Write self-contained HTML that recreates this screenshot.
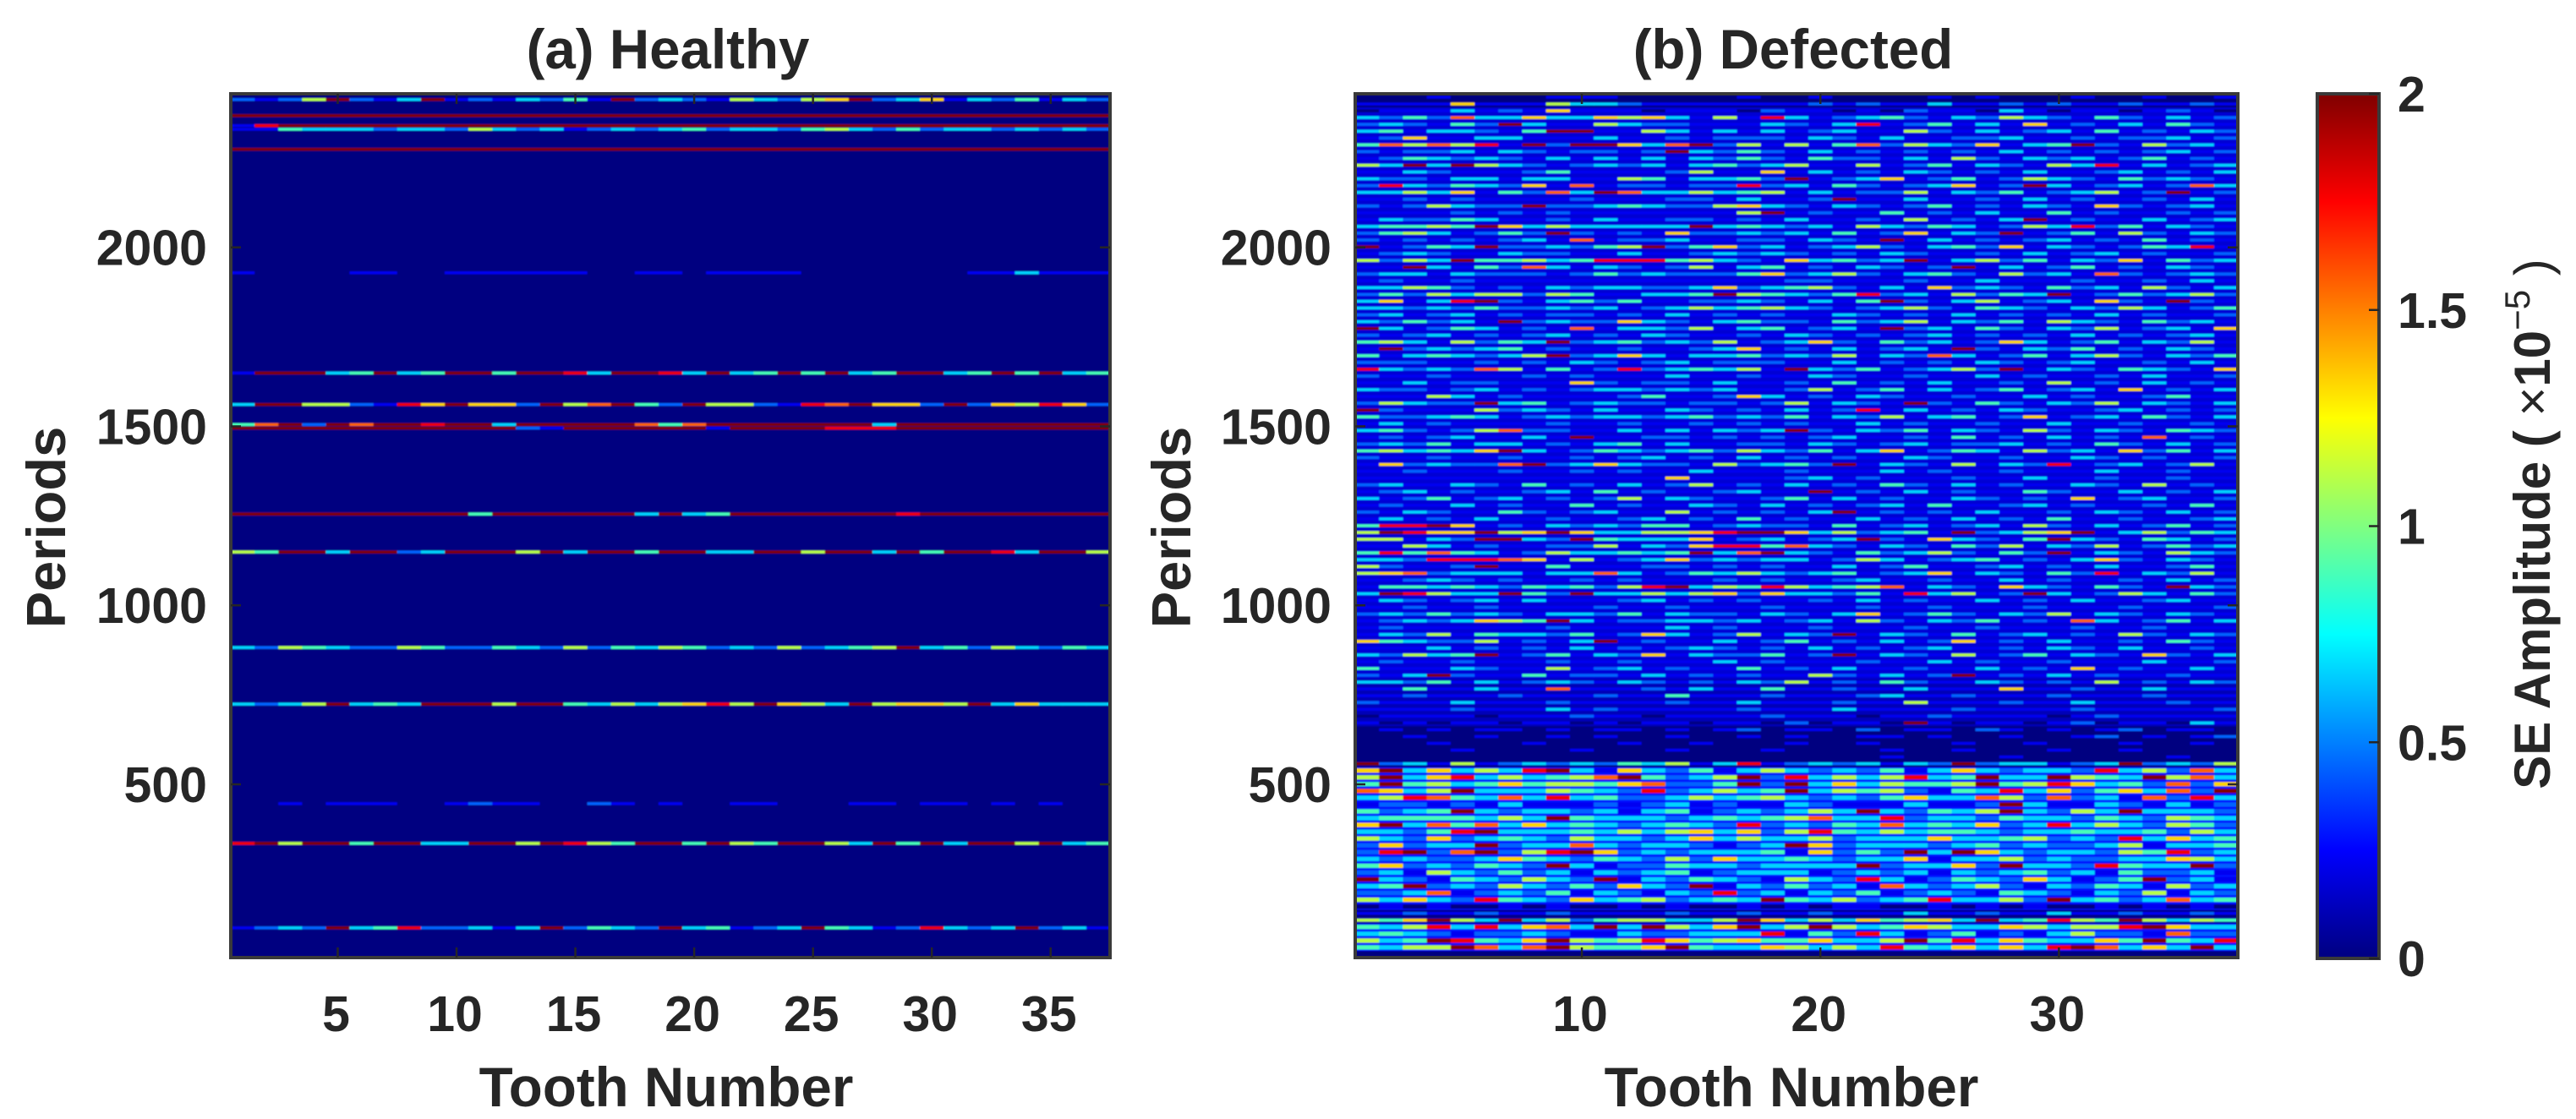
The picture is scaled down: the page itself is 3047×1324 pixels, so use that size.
<!DOCTYPE html>
<html lang="en">
<head>
<meta charset="utf-8">
<title>SE Amplitude Heatmaps</title>
<style>
html,body{margin:0;padding:0;background:#fff}
svg{display:block}
text{font-family:"Liberation Sans",sans-serif;font-weight:bold;fill:#262626}
</style>
</head>
<body>
<svg id="figure" xmlns="http://www.w3.org/2000/svg" width="3047" height="1324" viewBox="0 0 3047 1324">
<defs>
<filter id="soft" x="0" y="0" width="100%" height="100%"><feGaussianBlur stdDeviation="0.7"/></filter>
<linearGradient id="jetGradient" x1="0" y1="1" x2="0" y2="0"></linearGradient>
</defs>
<g id="panelA"></g>
<g id="panelB"></g>
<g id="bar"></g>
<text x="790" y="81" font-size="65.5" text-anchor="middle">(a) Healthy</text>
<text x="2121" y="81" font-size="65.5" text-anchor="middle">(b) Defected</text>
<text x="788" y="1309" font-size="65.5" text-anchor="middle">Tooth Number</text>
<text x="2119" y="1309" font-size="65.5" text-anchor="middle">Tooth Number</text>
<text transform="translate(77 624) rotate(-90)" font-size="65" text-anchor="middle">Periods</text>
<text transform="translate(1408 624) rotate(-90)" font-size="65" text-anchor="middle">Periods</text>
<text transform="translate(3016 620) rotate(-90)" font-size="60" text-anchor="middle">SE Amplitude ( <tspan font-weight="normal">×</tspan>10<tspan dy="-24" font-size="42" font-weight="normal">−5</tspan><tspan dy="24" font-weight="normal"> )</tspan></text>
</svg>
<script>
const toothRange = [0.5, 37.5];
const periodRange = [16, 2429];
const amplitudeRange = [0, 2];
const levelStep = 2 / 9;
const healthyToothTicks = [5, 10, 15, 20, 25, 30, 35];
const defectedToothTicks = [10, 20, 30];
const periodTicks = [500, 1000, 1500, 2000];
const colorbarTicks = [0, 0.5, 1, 1.5, 2];
const healthyRowSpan = 8;
const defectedBinSpan = 19;
const defectedThinSpan = 8;
const defectedWideSpan = 12;

const healthyPeriods = [2413, 2368, 2340, 2330, 2274, 1929, 1649, 1561, 1505, 1495, 1255, 1149, 882, 724, 446, 335, 99];
const healthyValues = [
[2,1,2,5,9,2,1,3,9,1,2,1,3,2,4,1,9,2,3,2,1,5,3,2,5,6,9,2,3,6,1,3,2,4,1,3,2],
[9,9,9,9,9,9,9,9,9,9,9,9,9,9,9,9,9,9,9,9,9,9,9,9,9,9,9,9,9,9,9,9,9,9,9,9,9],
[1,8,9,9,9,9,9,9,9,9,9,9,9,9,9,9,9,9,9,9,9,9,9,9,9,9,9,9,9,9,9,9,9,9,9,9,9],
[1,1,4,3,3,3,2,3,3,2,5,3,2,3,1,2,3,2,3,4,2,3,3,2,4,5,3,2,4,2,3,3,2,3,2,3,2],
[9,9,9,9,9,9,9,9,9,9,9,9,9,9,9,9,9,9,9,9,9,9,9,9,9,9,9,9,9,9,9,9,9,9,9,9,9],
[1,0,0,0,0,1,1,0,0,1,1,1,1,1,1,0,0,1,1,0,1,1,1,1,0,0,0,0,0,0,0,1,1,3,1,1,1],
[1,9,9,9,3,4,9,3,4,9,9,4,9,9,8,3,9,9,8,3,9,3,4,9,4,9,3,4,9,9,3,4,9,4,9,3,4],
[3,9,9,5,5,2,1,8,6,9,6,6,2,9,5,7,9,4,2,9,5,5,2,1,8,7,9,6,6,2,9,2,6,5,8,6,2],
[4,7,9,2,9,7,9,9,8,9,9,3,9,9,9,9,9,7,4,7,9,9,9,9,9,9,9,3,9,9,9,9,9,9,9,9,9],
[9,9,9,9,9,9,9,9,9,9,9,9,2,1,9,9,9,9,9,9,1,9,9,9,9,8,8,8,9,9,9,9,9,9,9,9,9],
[9,9,9,9,9,9,9,9,9,9,4,9,9,9,9,9,9,3,9,3,4,9,9,9,9,9,9,9,8,9,9,9,9,9,9,9,9],
[5,4,9,9,3,9,9,2,3,9,9,9,5,9,3,9,9,4,9,9,3,3,9,9,5,9,9,3,9,4,9,9,8,3,9,9,5],
[3,2,5,4,3,2,2,5,4,2,2,4,3,2,5,2,4,3,5,4,2,3,2,5,2,3,4,5,9,3,4,2,5,3,2,4,3],
[3,2,3,5,9,3,4,3,9,9,9,5,9,9,4,3,5,3,5,6,8,5,9,6,5,3,9,5,6,6,5,9,3,6,3,3,3],
[0,0,1,0,1,1,1,0,0,1,2,1,1,0,0,2,1,0,1,0,0,1,1,0,0,0,1,1,0,1,1,0,1,0,1,0,0],
[8,9,5,9,9,4,9,9,3,3,9,9,5,9,8,5,4,9,9,4,9,5,4,9,9,5,3,9,4,9,3,9,9,5,9,3,4],
[1,2,3,2,9,3,4,8,2,2,3,1,3,9,2,4,3,2,9,3,4,1,2,3,9,4,3,1,2,8,3,2,3,9,2,3,1]
];

const defectedFloor = [
0,0,0.75,0.75,0.75,0.75,0.75,0.75,0.75,0.75,0.75,0.75,0.75,0.75,0.75,0.75,0.75,0.75,0.75,0.75,
0.75,0.75,0.75,0.75,0.75,0.75,0.75,0.75,0.75,0.75,0.75,0.75,0.75,0.75,0.75,0.75,0.75,0.75,0.75,0.75,
0.75,0.75,0.75,0.75,0.75,0.75,0.75,0.75,0.75,0.75,0.75,0.75,0.75,0.75,0.75,0.75,0.75,0.75,0.75,0.75,
0.75,0.75,0.75,0.75,0.75,0.75,0.75,0.75,0.75,0.75,0.75,0.75,0.75,0.75,0.75,0.75,0.75,0.75,0.75,0.75,
0.75,0.75,0.75,0.75,0.75,0.75,0.5,0.5,0.5,0.5,0.5,0.5,0.5,0,0,0,0,0,0,1.25,
1.25,1.25,1.25,1.25,1.25,1.25,1.25,1.25,1.25,1.25,1.25,1.25,1.25,1.25,1.25,1.25,1.25,1.25,1.25,1.25,0,0.25,1.25,1.25,1.25,1.25,1.25
];

const defectedValues = [
[0,0,0,1,0,0,0,0,1,1,1,0,0,0,0,0,1,0,0,1,0,0,0,0,1,0,1,0,0,0,1,0,0,1,0,0,1],
[1,1,1,1,6,1,1,1,5,3,3,2,1,1,1,1,1,1,1,2,1,2,1,1,3,1,1,2,1,2,1,1,2,1,1,2,1],
[0,1,1,1,3,1,2,1,6,1,1,1,0,1,1,1,0,2,1,1,0,1,0,2,1,1,0,3,1,0,1,1,0,1,2,1,0],
[3,2,4,2,7,3,3,6,3,3,6,5,6,3,1,5,1,8,3,1,2,3,4,2,1,3,2,5,3,2,1,4,2,1,3,1,2],
[2,3,2,1,4,2,9,3,1,1,5,3,2,2,1,1,1,3,2,1,3,8,1,2,4,1,3,1,6,1,2,1,3,1,4,2,1],
[3,4,1,3,3,2,1,4,9,9,1,1,5,3,1,3,1,3,1,2,3,1,1,5,2,1,3,1,2,3,1,4,1,2,1,3,2],
[1,2,6,1,1,3,3,1,1,1,3,1,1,2,1,2,2,2,1,3,2,1,3,1,1,2,2,3,1,1,2,1,2,2,3,1,2],
[4,7,5,7,5,8,1,9,2,9,9,6,3,7,9,2,5,1,5,1,4,7,2,5,3,2,6,1,3,4,9,2,1,5,2,3,1],
[2,1,2,2,3,1,3,2,1,2,2,1,2,9,3,2,4,2,1,3,1,2,1,2,1,2,1,3,1,2,1,2,1,2,3,1,2],
[1,2,4,3,2,3,2,1,3,1,3,1,3,1,3,2,4,2,1,4,2,2,1,3,1,5,2,1,3,2,3,1,2,4,1,2,1],
[5,3,9,3,9,5,3,2,1,2,3,2,3,1,3,4,2,3,5,1,1,5,1,2,4,1,3,2,1,5,3,8,1,3,1,2,3],
[1,1,3,2,1,1,1,2,4,1,1,1,1,2,5,1,1,6,1,3,1,2,1,3,2,1,2,1,3,1,1,2,3,1,2,1,3],
[3,2,2,1,3,3,1,3,3,1,1,5,4,1,3,3,4,2,9,1,2,3,6,1,2,4,1,2,5,3,2,1,4,2,3,2,1],
[2,8,3,2,4,3,2,6,1,7,1,2,2,1,2,2,8,2,3,1,4,2,1,2,3,6,1,2,9,3,1,2,3,1,2,7,3],
[3,3,5,3,6,1,4,2,7,3,9,7,3,3,5,3,4,5,1,3,1,2,2,5,1,3,2,4,1,2,3,5,1,2,9,1,2],
[1,1,2,1,2,1,1,1,1,2,1,1,1,2,2,1,3,1,1,2,9,1,1,3,1,1,2,1,3,1,2,1,1,2,1,3,1],
[2,1,2,5,3,2,2,9,2,2,3,4,3,2,2,5,6,3,2,1,3,2,1,2,4,1,2,1,3,2,1,6,2,1,2,3,1],
[1,1,1,1,2,1,2,1,2,1,1,1,1,1,1,1,5,9,1,2,1,1,4,1,2,1,3,1,1,4,1,2,1,1,2,1,2],
[1,3,2,2,4,3,1,1,2,1,3,1,1,2,2,1,2,1,3,1,1,2,1,5,1,2,1,3,9,1,2,1,1,3,1,2,3],
[3,4,4,5,4,9,6,3,5,3,3,3,3,3,9,3,4,3,2,3,1,5,3,2,4,3,1,2,5,3,8,2,4,1,3,2,1],
[2,4,5,3,1,2,4,2,9,2,1,2,1,6,2,2,3,2,3,1,4,1,2,6,1,3,2,9,1,2,4,1,5,2,1,3,2],
[2,1,2,1,2,1,2,3,1,7,1,2,2,3,1,1,2,2,1,3,2,1,9,1,3,1,2,1,2,3,1,2,1,4,1,2,1],
[9,1,2,4,3,9,2,2,3,2,4,5,9,2,4,6,2,3,1,2,3,5,2,1,3,4,2,6,1,3,2,1,2,4,3,8,1],
[1,2,3,2,1,1,3,2,2,1,1,3,1,1,2,3,2,3,2,1,2,1,3,2,1,1,2,1,3,1,2,3,1,2,1,1,2],
[5,2,5,3,9,4,4,5,3,4,8,8,8,4,5,3,2,1,6,3,4,2,3,9,1,3,5,2,4,1,3,2,6,1,4,2,3],
[1,1,9,3,1,4,2,7,3,1,3,2,1,2,5,1,3,4,1,2,1,3,2,1,2,9,1,3,1,2,4,1,2,1,3,2,1],
[2,3,3,1,3,2,2,2,1,2,4,2,3,2,2,2,4,6,2,3,5,2,1,3,4,2,1,5,2,3,1,7,2,1,2,3,2],
[1,2,1,1,2,1,1,1,1,1,1,1,1,1,1,1,1,1,2,2,1,1,1,2,1,1,3,1,1,1,2,1,1,2,1,3,1],
[3,3,5,4,2,1,2,1,3,2,3,3,2,2,3,6,2,3,4,5,2,1,3,1,6,2,3,2,1,4,2,3,1,5,2,1,3],
[2,4,2,5,3,5,5,2,5,4,1,1,3,3,4,9,5,4,3,2,4,8,2,3,1,5,2,4,3,9,1,2,4,2,3,5,2],
[3,6,1,3,8,9,2,1,3,4,2,4,1,1,2,2,3,2,1,3,1,4,9,2,1,3,5,1,2,3,1,6,2,1,9,2,1],
[3,3,2,3,2,4,2,2,3,2,3,1,2,3,5,3,4,5,3,2,1,2,3,5,2,1,4,3,2,1,3,2,5,3,1,2,4],
[2,3,1,2,3,1,2,1,2,2,1,2,1,3,1,2,1,2,1,1,3,2,1,2,1,3,1,2,1,2,1,3,1,2,1,1,2],
[3,2,4,2,3,1,9,2,3,2,2,6,3,2,1,3,4,2,2,1,4,2,3,5,1,3,2,4,1,5,3,2,1,4,2,3,1],
[9,3,1,2,4,3,1,2,1,7,1,3,3,2,5,1,3,4,1,2,3,1,9,2,3,1,4,2,1,3,2,5,1,2,3,1,6],
[2,1,2,3,1,2,1,2,3,1,2,1,3,2,1,1,2,1,3,2,1,2,1,2,3,1,2,1,2,1,3,1,2,1,2,3,1],
[4,5,3,1,5,2,4,3,9,2,3,4,2,3,2,5,1,2,3,6,2,1,4,2,3,1,2,6,3,1,2,4,1,3,2,5,1],
[1,9,2,3,2,3,4,1,2,1,1,2,1,1,2,3,6,1,2,1,3,1,2,3,1,9,2,1,3,2,4,1,2,1,3,2,1],
[4,1,3,4,3,2,3,5,9,2,3,6,3,1,3,3,4,2,3,2,5,1,3,2,7,3,1,2,4,1,3,5,2,1,3,2,4],
[2,2,2,1,1,2,1,2,1,3,2,1,2,3,1,2,2,2,1,1,3,1,2,1,2,1,3,2,1,2,3,1,1,2,1,3,1],
[8,3,2,3,2,7,5,1,4,1,2,8,2,3,4,3,5,1,9,3,2,4,1,2,3,5,2,9,1,3,2,1,4,3,2,1,6],
[2,1,1,2,1,1,1,2,1,2,1,1,1,3,1,1,2,1,1,3,2,1,1,2,1,1,3,1,2,1,1,2,1,3,1,1,2],
[1,1,3,1,2,2,1,1,1,6,2,1,2,2,1,3,1,1,2,1,4,1,2,1,3,1,1,2,1,5,1,2,1,3,1,2,1],
[3,2,2,1,2,3,1,2,1,2,3,3,2,3,2,3,1,1,2,5,1,2,4,1,3,1,2,4,1,2,3,1,6,1,2,1,3],
[1,1,1,5,3,1,2,1,1,1,1,2,4,1,1,2,6,3,1,2,1,3,2,1,1,2,1,1,3,1,2,1,1,2,4,1,1],
[2,5,3,2,2,9,3,4,1,2,3,2,2,1,2,2,1,2,5,1,3,2,1,9,2,1,4,2,1,3,2,5,1,3,2,1,3],
[9,2,1,1,1,5,2,3,2,1,3,1,1,3,2,1,2,1,3,1,2,8,1,3,1,2,1,3,2,1,1,2,3,1,2,1,2],
[4,2,2,3,4,3,1,2,3,2,3,3,2,3,4,2,3,2,4,1,3,2,5,1,3,4,1,2,6,1,2,3,1,4,2,1,3],
[1,3,1,2,1,1,1,1,2,1,1,2,1,1,2,1,2,1,2,1,1,3,1,2,1,1,2,1,1,3,1,1,2,1,1,2,1],
[3,4,2,1,2,5,7,2,2,1,1,3,1,3,1,3,2,3,9,2,1,3,2,4,1,3,2,1,5,2,1,3,2,1,4,3,2],
[1,2,1,2,3,1,1,3,1,9,1,1,2,2,1,2,1,2,1,2,3,1,1,2,1,4,1,2,1,3,1,2,1,7,1,2,1],
[2,3,2,4,1,3,3,1,2,1,3,4,1,3,1,1,2,2,1,3,2,1,2,3,1,2,2,3,1,2,1,4,2,1,3,1,2],
[4,5,3,4,3,6,9,3,1,2,4,3,2,3,4,2,5,3,2,4,1,3,6,1,2,4,3,1,5,2,3,1,6,2,4,1,3],
[2,1,1,2,1,1,2,1,1,2,1,2,3,1,2,1,3,1,2,1,2,1,1,3,2,1,1,2,1,1,3,2,1,2,1,1,2],
[1,6,2,3,2,2,7,9,2,3,6,3,2,2,1,5,2,3,4,2,9,1,3,2,1,5,1,3,2,8,1,2,3,1,2,5,1],
[1,1,2,1,1,1,2,1,1,2,1,2,1,1,3,1,1,1,2,1,1,1,3,1,2,1,1,2,1,1,1,3,1,1,2,1,1],
[1,1,1,1,1,1,1,1,1,1,1,1,1,6,1,1,1,1,2,3,1,2,1,1,1,2,1,1,3,1,1,2,1,1,2,1,1],
[2,3,1,1,3,2,1,4,1,2,1,3,1,2,5,1,2,1,3,1,2,1,4,2,1,3,1,2,1,1,3,2,1,5,1,2,1],
[1,2,3,1,2,1,1,2,3,1,4,1,2,1,1,2,3,1,1,9,1,2,1,3,1,2,1,1,4,2,1,1,3,1,2,1,3],
[3,1,2,4,1,2,3,1,2,1,2,5,1,3,2,1,1,2,4,1,3,1,2,1,1,3,2,1,2,1,6,1,2,3,1,1,2],
[1,2,1,1,3,1,2,1,1,4,1,2,1,1,3,2,1,3,1,2,1,2,3,1,4,1,1,2,3,1,2,1,1,2,1,4,1],
[2,1,3,2,1,1,4,2,1,2,3,1,1,5,1,2,1,2,1,3,9,1,2,1,2,1,3,1,1,2,1,3,2,1,3,1,2],
[1,3,1,2,1,3,1,1,2,1,1,2,3,1,2,1,4,1,2,1,1,3,1,2,1,3,1,2,1,4,1,1,2,1,1,2,3],
[4,8,8,9,6,1,2,1,3,2,3,2,4,4,1,2,3,2,2,1,4,1,2,3,1,2,3,1,5,2,1,3,1,2,4,1,2],
[5,9,8,6,6,9,5,6,9,6,3,3,5,5,6,8,9,9,6,3,5,2,3,4,1,9,2,3,5,6,9,1,3,5,2,4,3],
[5,5,1,3,2,9,9,3,2,9,4,3,3,3,6,1,2,3,1,2,3,9,2,1,6,3,2,1,4,9,3,2,1,4,3,1,2],
[1,1,5,3,1,2,1,1,2,2,5,1,3,2,6,8,8,4,7,3,2,1,3,2,1,4,2,5,1,3,2,5,1,2,4,2,3],
[4,8,4,7,4,3,1,2,5,3,3,4,3,4,9,3,7,9,3,2,1,4,2,3,5,2,1,4,2,9,1,3,2,1,5,3,2],
[3,3,2,8,8,8,7,6,1,5,1,2,3,6,2,3,2,3,3,1,2,5,3,1,2,3,4,1,2,1,3,6,2,1,3,2,1],
[5,2,1,1,2,9,1,1,4,1,1,1,2,2,1,2,1,2,1,1,3,1,2,4,1,1,2,3,1,2,1,3,1,1,2,4,1],
[5,6,7,2,3,3,3,1,3,3,7,3,1,2,4,3,5,3,2,3,4,1,2,3,6,1,3,2,1,4,2,8,1,3,2,5,1],
[1,1,2,3,2,1,2,1,1,2,1,2,1,1,1,2,1,2,1,1,2,3,1,1,2,1,1,3,1,2,1,1,2,1,3,1,2],
[1,4,4,3,4,3,2,4,3,4,2,5,8,9,3,5,4,8,5,3,4,5,7,1,3,2,1,6,3,2,1,4,2,1,9,3,2],
[3,9,8,5,3,3,9,4,2,9,3,3,5,3,5,6,2,6,3,3,2,4,1,8,3,5,1,2,9,3,1,2,5,3,1,4,2],
[1,3,2,1,2,3,1,3,1,1,1,2,3,1,2,1,2,1,1,2,1,3,1,2,1,1,3,1,2,1,3,1,1,2,3,1,1],
[1,1,2,1,1,2,1,1,1,1,2,1,1,2,1,1,1,2,1,1,1,2,1,1,2,1,1,1,2,1,1,1,2,1,1,1,2],
[2,3,2,4,2,3,2,1,3,3,2,4,1,3,2,2,1,3,2,1,3,6,1,2,4,2,1,3,2,5,1,3,2,1,3,2,1],
[1,2,3,2,3,6,5,4,9,3,1,2,2,3,3,2,3,1,2,3,1,5,2,1,3,2,4,1,2,1,7,3,1,2,4,1,3],
[1,2,1,1,1,1,1,1,2,1,1,1,1,3,1,2,1,1,1,2,1,1,1,2,1,1,2,1,1,1,2,1,1,2,1,1,1],
[1,3,2,5,1,4,3,3,2,4,1,2,6,3,1,2,5,1,3,2,9,1,3,2,1,4,1,2,3,1,2,1,5,2,1,3,2],
[6,4,3,2,2,5,1,2,1,3,9,1,2,1,1,3,1,2,4,1,2,1,3,1,2,6,1,2,1,3,1,1,2,1,4,2,1],
[1,1,1,3,1,2,1,2,1,3,1,2,1,2,3,2,1,2,1,3,1,2,1,2,3,1,1,2,1,3,2,1,3,1,1,2,1],
[3,2,5,3,4,9,1,2,4,1,3,2,6,1,3,2,2,4,1,2,9,1,3,2,1,5,1,2,4,1,3,2,1,6,2,1,3],
[1,2,1,1,2,1,1,1,2,1,1,2,1,1,1,3,1,2,1,1,1,2,1,1,3,1,2,1,1,2,1,1,1,3,1,1,2],
[4,1,1,1,3,2,1,1,5,1,2,3,1,2,1,1,4,1,2,1,3,1,1,2,1,1,3,1,2,1,6,1,2,1,1,3,1],
[2,1,3,9,2,1,1,4,1,2,2,1,3,1,2,1,2,1,1,5,2,1,3,1,2,9,1,2,1,3,1,2,1,1,2,1,1],
[3,3,2,4,1,3,1,2,3,2,1,3,2,1,2,1,3,2,5,1,2,1,4,2,1,1,3,2,1,2,1,5,1,2,1,3,2],
[1,1,4,1,1,3,1,1,7,1,1,1,2,1,3,1,1,4,1,1,2,1,1,3,1,1,1,6,1,1,2,1,1,3,1,1,1],
[1,1,2,1,1,1,2,1,1,1,2,1,1,4,1,1,1,2,1,1,1,2,3,1,1,2,1,1,1,2,1,1,1,2,1,1,1],
[2,1,1,1,3,1,1,1,2,1,1,1,1,2,1,1,3,1,1,1,2,1,1,5,1,1,1,2,1,1,3,1,1,1,2,1,1],
[1,1,1,1,2,1,1,1,3,1,2,1,1,1,1,1,2,1,1,1,3,1,1,1,1,2,1,1,1,1,2,1,1,1,1,1,2],
[0,1,1,1,1,0,1,1,1,2,1,1,0,1,1,1,1,2,1,1,1,0,1,1,2,1,1,1,1,0,1,2,1,1,1,1,1],
[1,0,1,0,1,1,0,1,1,0,1,0,1,1,0,1,1,0,2,0,1,1,0,9,1,0,1,1,0,1,2,0,1,1,0,3,1],
[0,1,0,1,0,1,1,0,1,0,1,1,0,1,0,1,2,0,1,1,0,2,0,1,1,0,2,1,0,1,0,1,2,0,1,1,0],
[0,0,1,0,0,1,0,0,1,0,1,0,0,1,0,0,1,0,1,0,0,1,1,0,1,0,0,1,0,0,1,2,0,1,0,1,2],
[0,0,0,1,0,0,0,1,0,0,0,1,0,0,1,0,0,0,1,0,0,1,0,0,0,1,0,0,1,0,0,0,1,0,0,1,0],
[0,0,0,0,1,0,0,0,0,1,0,0,0,1,0,0,0,1,0,0,0,0,1,0,0,1,0,0,0,1,0,0,1,0,0,0,0],
[0,0,0,0,0,0,0,0,0,0,0,0,0,0,0,0,0,0,0,0,0,0,1,0,0,0,0,1,0,0,0,0,0,0,1,0,0],
[9,2,3,1,5,1,2,3,2,3,2,4,3,5,1,3,8,1,2,3,2,3,1,3,2,9,2,3,3,1,2,3,9,2,3,2,5],
[6,9,3,6,3,5,3,8,9,3,1,6,3,2,4,1,3,5,3,2,3,2,4,1,3,6,3,2,3,3,2,8,3,5,2,7,3],
[5,9,3,6,8,3,5,3,4,5,7,9,4,2,3,5,9,2,8,3,5,3,5,8,3,4,9,3,3,9,5,4,3,9,5,7,3],
[4,9,4,5,3,4,6,4,5,5,4,6,7,2,2,4,9,2,9,3,6,3,5,4,4,5,9,4,5,8,6,3,4,2,7,2,6],
[7,6,3,5,9,3,3,3,5,4,3,2,8,2,3,5,3,4,9,3,5,4,5,2,1,4,3,8,3,6,2,4,6,3,7,2,9],
[3,5,8,7,4,3,7,3,8,3,4,2,2,3,5,3,4,5,3,2,3,2,4,6,3,3,7,5,2,7,2,3,1,7,2,8,3],
[1,2,2,1,2,1,3,1,1,1,2,1,2,3,1,2,1,1,3,2,1,1,1,3,1,1,2,9,3,1,1,3,2,1,3,1,2],
[4,2,3,4,9,3,2,3,3,2,3,1,3,4,1,2,3,2,3,5,3,9,3,2,4,3,5,9,3,2,5,3,9,3,3,3,2],
[3,4,4,4,4,3,5,3,9,4,3,3,3,2,3,4,3,4,5,7,3,3,8,2,3,3,2,4,3,3,2,4,3,2,5,4,3],
[6,9,3,7,4,7,3,6,3,4,3,2,3,4,3,2,8,2,3,2,4,3,7,3,4,3,6,2,3,8,3,5,3,2,5,4,2],
[3,3,2,4,8,9,3,3,3,4,3,5,3,5,6,3,6,2,5,8,4,3,5,3,4,4,3,2,3,3,4,3,3,4,2,5,3],
[5,3,2,6,2,3,4,3,2,5,3,3,2,3,6,3,5,3,3,5,2,3,3,3,6,3,3,4,5,2,3,2,8,3,6,3,4],
[2,6,2,3,3,9,2,3,3,7,3,2,3,3,2,1,2,3,9,6,2,3,3,3,2,3,4,2,3,2,2,3,5,1,3,3,4],
[2,8,9,2,7,9,2,5,8,9,6,2,3,2,3,3,3,4,1,6,2,4,2,9,3,9,6,3,2,3,3,2,5,4,8,2,3],
[3,2,3,2,2,3,6,4,3,2,4,3,2,5,2,6,3,3,4,3,2,3,3,6,1,3,3,5,2,3,2,2,3,3,6,5,3],
[4,6,2,3,2,4,3,2,9,3,1,2,2,4,3,3,2,3,3,3,3,9,2,3,3,6,2,9,3,3,2,8,4,3,3,9,2],
[2,3,1,5,3,2,4,2,3,1,3,2,3,4,1,2,3,3,3,1,2,3,2,3,1,3,2,3,4,2,3,1,4,2,2,3,1],
[9,3,2,1,4,3,2,5,3,2,9,1,3,2,4,3,2,1,5,3,2,8,3,1,2,4,3,2,6,3,1,2,4,9,2,3,1],
[3,4,9,2,3,2,5,3,2,4,2,6,3,2,9,1,3,2,4,2,3,1,7,3,2,3,5,2,1,3,2,4,3,1,5,2,3],
[2,2,3,7,1,2,3,2,4,1,3,2,1,3,2,8,2,3,1,3,2,4,1,2,3,2,1,4,3,2,1,3,2,5,1,3,2],
[5,3,6,3,2,8,4,3,2,6,3,4,5,2,3,4,3,9,4,3,5,2,3,4,8,3,3,5,2,9,3,4,2,3,7,3,4],
[0,1,0,1,0,0,1,0,1,0,0,1,0,1,0,0,1,0,1,0,1,1,0,0,1,0,1,0,1,0,0,1,0,1,0,1,0],
[1,1,2,1,1,2,1,1,2,1,1,1,1,2,1,1,2,1,1,2,1,1,1,3,1,1,2,1,1,3,1,1,2,1,1,2,1],
[5,4,6,9,5,3,9,3,5,2,4,5,5,3,3,5,9,6,3,5,3,6,4,5,6,3,9,3,4,8,5,4,9,5,3,5,4],
[4,3,5,8,3,8,3,6,7,3,9,3,9,5,3,6,9,3,5,9,5,3,4,6,5,3,3,6,5,3,5,5,8,9,6,3,3],
[3,4,3,2,1,2,2,3,2,1,1,3,2,2,3,3,3,8,1,4,2,8,3,1,2,4,1,2,1,3,5,2,2,1,7,2,2],
[5,3,4,9,8,4,3,6,9,5,4,5,8,6,4,5,6,4,4,6,3,3,5,9,4,8,3,6,4,3,3,6,4,9,4,3,8],
[4,3,5,5,9,7,3,7,9,5,4,4,6,9,4,3,3,6,5,3,5,3,8,4,3,6,3,6,3,8,9,7,3,6,3,9,3]
];

const SVGNS = 'http://www.w3.org/2000/svg';
const plotA = {left: 273, right: 1313, top: 111, bottom: 1133};
const plotB = {left: 1603, right: 2647, top: 111, bottom: 1133};
const plotC = {left: 2741, right: 2814, top: 111, bottom: 1134};

function shape(parent, tag, attrs) {
  const node = document.createElementNS(SVGNS, tag);
  for (const key in attrs) node.setAttribute(key, attrs[key]);
  parent.appendChild(node);
  return node;
}
function jet(t) {
  const c = v => Math.round(255 * Math.max(0, Math.min(1, v)));
  return 'rgb(' + c(1.5 - Math.abs(4 * t - 3)) + ',' + c(1.5 - Math.abs(4 * t - 2)) + ',' + c(1.5 - Math.abs(4 * t - 1)) + ')';
}
function colorOf(level) {
  return jet((level * levelStep - amplitudeRange[0]) / (amplitudeRange[1] - amplitudeRange[0]));
}
function xScale(plot, tooth) {
  return plot.left + (tooth - toothRange[0]) / (toothRange[1] - toothRange[0]) * (plot.right - plot.left);
}
function yScale(plot, period) {
  return plot.bottom - (period - periodRange[0]) / (periodRange[1] - periodRange[0]) * (plot.bottom - plot.top);
}
function drawCell(group, plot, col, periodLow, periodHigh, level) {
  const x0 = xScale(plot, col + 0.5);
  const x1 = xScale(plot, col + 1.5);
  const y0 = yScale(plot, periodHigh);
  const y1 = yScale(plot, periodLow);
  const cell = shape(group, 'rect', {x: x0, y: y0, width: x1 - x0 + 0.4, height: y1 - y0, fill: colorOf(level)});
  
  
}
function drawAxes(panel, plot, toothTicks, prefix) {
  const frame = shape(panel, 'rect', {x: plot.left, y: plot.top, width: plot.right - plot.left, height: plot.bottom - plot.top, fill: 'none', stroke: '#3a3a3a', 'stroke-width': 4});
  
  
  toothTicks.forEach(function (tick) {
    const x = xScale(plot, tick);
    const low = shape(panel, 'line', {x1: x, x2: x, y1: plot.bottom, y2: plot.bottom - 12, stroke: '#262626', 'stroke-width': 2.5});
    
    
    const high = shape(panel, 'line', {x1: x, x2: x, y1: plot.top, y2: plot.top + 12, stroke: '#262626', 'stroke-width': 2.5});
    
    
    const label = shape(panel, 'text', {x: x - 2, y: 1220, 'font-size': 59, 'text-anchor': 'middle'});
    
    
    label.textContent = tick;
  });
  periodTicks.forEach(function (tick) {
    const y = yScale(plot, tick);
    const left = shape(panel, 'line', {x1: plot.left, x2: plot.left + 12, y1: y, y2: y, stroke: '#262626', 'stroke-width': 2.5});
    
    
    const right = shape(panel, 'line', {x1: plot.right, x2: plot.right - 12, y1: y, y2: y, stroke: '#262626', 'stroke-width': 2.5});
    
    
    const label = shape(panel, 'text', {x: plot.left - 28, y: y + 21, 'font-size': 59, 'text-anchor': 'end'});
    
    
    label.textContent = tick;
  });
}

const panelA = document.getElementById('panelA');
const gridA = shape(panelA, 'g', {filter: 'url(#soft)'});


const fieldA = shape(gridA, 'rect', {x: plotA.left, y: plotA.top, width: plotA.right - plotA.left, height: plotA.bottom - plotA.top, fill: colorOf(0)});


healthyValues.forEach(function (row, r) {
  row.forEach(function (level, c) {
    drawCell(gridA, plotA, c, healthyPeriods[r] - healthyRowSpan / 2, healthyPeriods[r] + healthyRowSpan / 2, level);
  });
});
drawAxes(panelA, plotA, healthyToothTicks, 'healthy');

const panelB = document.getElementById('panelB');
const gridB = shape(panelB, 'g', {filter: 'url(#soft)'});


const fieldB = shape(gridB, 'rect', {x: plotB.left, y: plotB.top, width: plotB.right - plotB.left, height: plotB.bottom - plotB.top, fill: colorOf(0)});


defectedValues.forEach(function (row, r) {
  const high = periodRange[1] - r * defectedBinSpan;
  const low = high - defectedBinSpan;
  const rowFloor = shape(gridB, 'rect', {x: plotB.left, y: yScale(plotB, high), width: plotB.right - plotB.left, height: yScale(plotB, low) - yScale(plotB, high) + 0.3, fill: colorOf(defectedFloor[r])});
  
  
  const mid = (high + low) / 2;
  const span = defectedFloor[r] >= 1 ? defectedWideSpan : defectedThinSpan;
  row.forEach(function (level, c) {
    drawCell(gridB, plotB, c, mid - span / 2, mid + span / 2, level);
  });
});
drawAxes(panelB, plotB, defectedToothTicks, 'defected');

const gradient = document.getElementById('jetGradient');
for (let i = 0; i <= 32; i++) {
  shape(gradient, 'stop', {offset: (i / 32 * 100) + '%', 'stop-color': jet(i / 32)});
}
const bar = document.getElementById('bar');
const barFill = shape(bar, 'rect', {x: plotC.left, y: plotC.top, width: plotC.right - plotC.left, height: plotC.bottom - plotC.top, fill: 'url(#jetGradient)', stroke: '#3a3a3a', 'stroke-width': 4});


colorbarTicks.forEach(function (tick) {
  const y = plotC.bottom - (tick - amplitudeRange[0]) / (amplitudeRange[1] - amplitudeRange[0]) * (plotC.bottom - plotC.top);
  const mark = shape(bar, 'line', {x1: plotC.right, x2: plotC.right - 12, y1: y, y2: y, stroke: '#262626', 'stroke-width': 2.5});
  
  
  const label = shape(bar, 'text', {x: 2836, y: y + 21, 'font-size': 59});
  
  
  label.textContent = tick;
});
</script>
</body>
</html>
